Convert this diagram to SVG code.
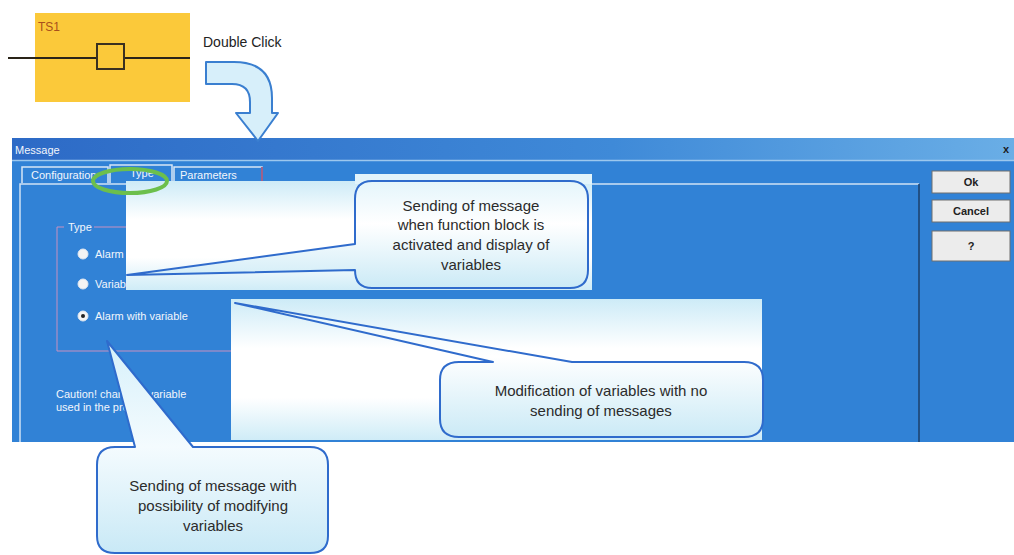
<svg xmlns="http://www.w3.org/2000/svg" width="1014" height="555" viewBox="0 0 1014 555">
  <style>
    .ui { font-family: "Liberation Sans", Arial, sans-serif; font-size: 11px; fill: #f2f6fc; }
    .btn { fill: #ececec; stroke: #6f6f6f; stroke-width: 1; }
    .btn-t { font-family: "Liberation Sans", Arial, sans-serif; font-size: 11px; font-weight: bold; fill: #222; text-anchor: middle; }
    .call { stroke: #2f6bcc; stroke-width: 2; stroke-linejoin: round; }
    .call-t { font-family: "Liberation Sans", Arial, sans-serif; font-size: 15px; fill: #2b2b2b; text-anchor: middle; }
    .radio { fill: #f4f4f4; stroke: #dfe6f0; stroke-width: 1; }
  </style>
  <defs>
    <linearGradient id="title" x1="0" y1="0" x2="1" y2="0">
      <stop offset="0" stop-color="#2d6ac6"/>
      <stop offset="0.6" stop-color="#3f8ad8"/>
      <stop offset="1" stop-color="#6aaee6"/>
    </linearGradient>
    <linearGradient id="sheet" x1="0" y1="0" x2="0" y2="1">
      <stop offset="0" stop-color="#cdebf7"/>
      <stop offset="0.35" stop-color="#ffffff"/>
      <stop offset="0.7" stop-color="#ffffff"/>
      <stop offset="1" stop-color="#cfecf7"/>
    </linearGradient>
    <linearGradient id="bubble" x1="0" y1="0" x2="0" y2="1">
      <stop offset="0" stop-color="#e4f5fb"/>
      <stop offset="0.4" stop-color="#ffffff"/>
      <stop offset="1" stop-color="#cbeaf6"/>
    </linearGradient>
    <linearGradient id="bubble3" x1="0" y1="0" x2="0" y2="1">
      <stop offset="0" stop-color="#d6f0fa"/>
      <stop offset="0.5" stop-color="#f4fbfe"/>
      <stop offset="1" stop-color="#c9e9f6"/>
    </linearGradient>
  </defs>

  <rect width="1014" height="555" fill="#ffffff"/>

  <!-- function block TS1 -->
  <g id="ts1-block">
    <rect x="35" y="13" width="155" height="89" fill="#fbc93a"/>
    <line x1="8" y1="58" x2="190" y2="58" stroke="#2a2418" stroke-width="2"/>
    <rect x="97" y="44" width="27" height="25" fill="#fbc93a" stroke="#3a3020" stroke-width="2"/>
    <text x="38" y="31" font-family="Liberation Sans, Arial, sans-serif" font-size="12" fill="#a8501c">TS1</text>
  </g>

  <g id="double-click-label">
    <text x="203" y="47" font-family="Liberation Sans, Arial, sans-serif" font-size="14" fill="#222">Double Click</text>
  </g>

  <!-- parameter dialog -->
  <g id="dialog">
    <rect x="12" y="138" width="1002" height="304" fill="#3182d6"/>
    <rect x="12" y="138" width="1002" height="22" fill="url(#title)"/>
    <line x1="12" y1="160.5" x2="1014" y2="160.5" stroke="#9cc8ee" stroke-width="1.5"/>
    <text class="ui" x="15" y="154">Message</text>
    <text x="1003" y="153" font-family="Liberation Sans, Arial, sans-serif" font-size="11" font-weight="bold" fill="#1c1c1c">x</text>

    <!-- tabs -->
    <path d="M22,183 V167 H108 V183" fill="none" stroke="#d6e6f6" stroke-width="1.5"/>
    <text class="ui" x="31" y="179">Configuration</text>
    <path d="M110,183 V165 H172 V183" fill="none" stroke="#d6e6f6" stroke-width="1.5"/>
    <text class="ui" x="130" y="177">Type</text>
    <path d="M174,183 V167 H262 V183" fill="none" stroke="#d6e6f6" stroke-width="1.5"/>
    <line x1="262" y1="167" x2="262" y2="183" stroke="#9a3c6a" stroke-width="1.5"/>
    <text class="ui" x="180" y="179">Parameters</text>

    <!-- tab page -->
    <path d="M20,442 V184 H919" fill="none" stroke="#cfe2f5" stroke-width="1.5"/>
    <line x1="919" y1="184" x2="919" y2="442" stroke="#1d3f6a" stroke-width="1.5"/>

    <!-- type group -->
    <path d="M64,227 H57 V351 H240" fill="none" stroke="#c890c0" stroke-width="1"/>
    <text class="ui" x="68" y="231">Type</text>
    <line x1="94" y1="227" x2="130" y2="227" stroke="#c890c0" stroke-width="1"/>
    <circle class="radio" cx="83" cy="254" r="5"/>
    <text class="ui" x="95" y="258">Alarm</text>
    <circle class="radio" cx="83" cy="284" r="5"/>
    <text class="ui" x="95" y="288">Variable</text>
    <circle class="radio" cx="83" cy="316" r="5"/>
    <circle cx="83" cy="316" r="2" fill="#222"/>
    <text class="ui" x="95" y="320">Alarm with variable</text>

    <text class="ui" x="56" y="398">Caution! changing variable</text>
    <text class="ui" x="56" y="411">used in the program</text>

    <!-- buttons -->
    <rect class="btn" x="932" y="171" width="78" height="22"/>
    <text class="btn-t" x="971" y="186">Ok</text>
    <rect class="btn" x="932" y="200" width="78" height="22"/>
    <text class="btn-t" x="971" y="215">Cancel</text>
    <rect class="btn" x="932" y="231" width="78" height="30"/>
    <text class="btn-t" x="971" y="250">?</text>
  </g>

  <!-- arrow from the block down to its dialog -->
  <g id="connectors">
    <path d="M206,62 L234,62 Q272,62 272,98 L272,113 L278,113 L258,141 L236,113 L250,113 L250,102 Q250,84 232,84 L206,84 Z" fill="#d7effa" stroke="#3a7fd0" stroke-width="2" stroke-linejoin="round"/>
  </g>

  <!-- callout: alarm -->
  <g id="callout-alarm">
    <rect x="126" y="181" width="466" height="109" fill="url(#sheet)"/>
    <rect x="355" y="174" width="237" height="10" fill="#e2f4fb"/>
    <path class="call" fill="url(#bubble)" d="M372,181 H570 Q588,181 588,199 V270 Q588,288 570,288 H372 Q355,288 355,270 L127,275 L355,244 V199 Q355,181 372,181 Z"/>
    <text class="call-t" x="471" y="211">Sending of message</text>
    <text class="call-t" x="471" y="230">when function block is</text>
    <text class="call-t" x="471" y="250">activated and display of</text>
    <text class="call-t" x="471" y="270">variables</text>
  </g>

  <!-- callout: variable -->
  <g id="callout-variable">
    <rect x="231" y="299" width="531" height="141" fill="url(#sheet)"/>
    <path class="call" fill="url(#bubble)" d="M572,362 H744 Q763,362 763,380 V419 Q763,437 744,437 H459 Q440,437 440,419 V380 Q440,362 459,362 H493 L235,303 Z"/>
    <text class="call-t" x="601" y="396">Modification of variables with no</text>
    <text class="call-t" x="601" y="416">sending of messages</text>
  </g>

  <!-- callout: alarm with variable -->
  <g id="callout-alarm-variable">
    <path class="call" fill="url(#bubble3)" d="M193,447 H310 Q328,447 328,465 V536 Q328,553 310,553 H115 Q97,553 97,536 V465 Q97,447 115,447 H135 L107,341 Z"/>
    <text class="call-t" x="213" y="491">Sending of message with</text>
    <text class="call-t" x="213" y="511">possibility of modifying</text>
    <text class="call-t" x="213" y="531">variables</text>
  </g>

  <!-- highlight on the Type tab -->
  <g id="tab-highlight">
    <ellipse cx="130" cy="181" rx="37" ry="12" fill="none" stroke="#6cbf4c" stroke-width="4"/>
  </g>
</svg>
